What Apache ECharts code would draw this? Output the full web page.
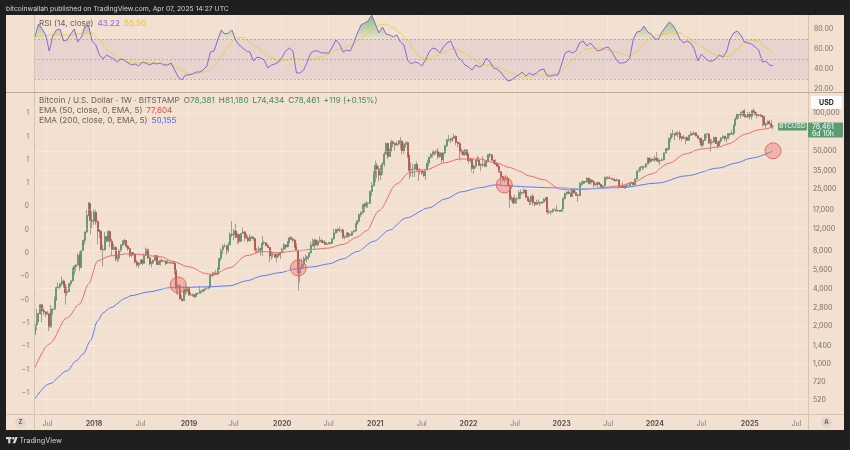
<!DOCTYPE html>
<html><head><meta charset="utf-8">
<script src="https://cdn.jsdelivr.net/npm/echarts@6/dist/echarts.min.js"></script>
<style>html,body{margin:0;padding:0;background:#1f1f1f;}#c{width:850px;height:450px;}</style>
</head><body><div id="c"></div>
<script>
// ---------- DATA ----------
const startYear = 2017, startMonth = 4, startDay = 15; // first weekly bar: 2017-05-15
const slotCount = 432; // weekly slots on the time axis (incl. empty future space)

// weekly candles [open, high, low, close]
const w2017 = [
[1720,2100,1700,2050],[2050,2760,1850,2200],[2200,2550,2150,2520],[2520,2990,2460,2960],[2960,3000,2150,2650],
[2650,2780,2450,2590],[2590,2620,2350,2500],[2500,2650,2470,2510],[2510,2560,1830,1970],[1970,2950,1950,2750],
[2750,2800,2450,2730],[2730,3450,2700,3220],[3220,4150,3200,4060],[4060,4480,3950,4100],[4100,4400,3950,4360],
[4360,4980,4200,4580],[4580,4720,4050,4230],[4230,4380,2970,3700],[3700,4120,3500,3780],[3780,4400,3750,4370],
[4370,4650,4170,4600],[4600,5860,4550,5700],[5700,6170,5100,6000],[6000,6200,5450,6150],[6150,7600,6100,7360],
[7360,7880,5500,5900],[5900,8100,5850,8000],[8000,9750,7950,9700],[9700,11400,9000,11300],[11300,17100,11000,15300],
[15300,19700,15100,19100],[19100,19200,10800,14000],[14000,16500,12000,13800]];
const w2018 = [
[13800,17250,12800,16200],[16200,17100,12900,13600],[13600,14000,9000,11600],[11600,11900,10100,11400],[11400,11700,7900,8200],
[8200,8900,6000,8100],[8100,11300,8000,10400],[10400,10500,9300,9600],[9600,11700,9400,11400],
[11400,11500,8500,9500],[9500,9950,7300,8200],[8200,9100,8100,8500],[8500,8700,6600,6900],
[6900,7500,6450,7000],[7000,8250,6600,8000],[8000,9000,7850,8900],[8900,9750,8700,9400],[9400,9950,9000,9650],
[9650,9700,8400,8700],[8700,8900,7950,8300],[8300,8400,7050,7350],[7350,7750,7100,7700],
[7700,7800,7400,7500],[7500,7520,6300,6500],[6500,6800,5900,6150],[6150,6550,5800,6350],
[6350,6800,6250,6750],[6750,6800,6100,6350],[6350,7600,6300,7400],[7400,8500,7350,8200],[8200,8250,6900,7000],
[7000,7150,6100,6300],[6300,6600,5900,6400],[6400,6800,6250,6700],[6700,7400,6650,7300],
[7300,7400,6200,6200],[6200,6600,6150,6500],[6500,6800,6100,6700],[6700,6900,6550,6600],
[6600,6650,6500,6600],[6600,6700,6100,6350],[6350,6750,6350,6450],[6450,6550,6400,6400],[6400,6500,6250,6400],
[6400,6550,6300,6350],[6350,6500,5200,5600],[5600,5650,3600,4000],[4000,4400,3550,4200],
[4200,4300,3300,3300],[3300,3550,3150,3200],[3200,4200,3200,3900],[3900,4250,3550,3800],[3800,4100,3650,4050]];
const w2019 = [
[4050,4100,3500,3550],[3550,3750,3500,3550],[3550,3650,3450,3550],[3550,3600,3350,3450],
[3450,3700,3380,3650],[3650,3720,3550,3650],[3650,4200,3650,3800],[3800,3900,3700,3850],
[3850,3950,3700,3900],[3900,4050,3800,4000],[4000,4100,3950,3990],[3990,4150,3950,4100],
[4100,5300,4100,5050],[5050,5450,4950,5150],[5150,5400,5050,5300],[5300,5650,5150,5200],[5200,5900,5150,5700],
[5700,7000,5650,6950],[6950,8350,6600,8100],[8100,8950,7500,8700],[8700,9100,8500,8700],
[8700,8800,7450,8000],[8000,9400,7700,8900],[8900,11200,8900,10800],[10800,13800,10300,10700],
[10700,12000,9700,11500],[11500,13150,10100,10200],[10200,11100,9000,10750],[10750,10950,9150,9500],[9500,11000,9400,11000],
[11000,12300,11000,11300],[11300,11450,9500,10300],[10300,10950,9900,10100],[10100,10650,9350,9600],
[9600,10850,9600,10300],[10300,10450,9900,10300],[10300,10300,9600,10000],[10000,10050,7700,8050],[8050,8450,7700,7950],
[7950,8800,7800,8300],[8300,8400,7300,7950],[7950,10500,7300,9200],[9200,9600,8900,9250],
[9250,9400,8700,8800],[8800,9100,8400,8500],[8500,8500,6500,7300],[7300,7900,6800,7500],
[7500,7700,7050,7500],[7500,7600,7050,7100],[7100,7550,6450,7500],[7500,7700,7100,7400],[7400,7850,6850,7750]];
const w2020 = [
[7750,8450,7700,8200],[8200,9200,8100,8900],[8900,8950,8250,8600],[8600,9550,8500,9400],
[9400,10200,9150,10150],[10150,10500,9700,9900],[9900,10250,9300,9700],[9700,9950,8400,8550],
[8550,9200,8000,8000],[8000,8200,3850,5350],[5350,6900,4450,5850],[5850,6950,5700,6250],[6250,7200,5850,6800],
[6800,7450,6700,6900],[6900,7300,6500,7150],[7150,7750,6800,7700],[7700,9450,7650,8900],
[8900,10050,8700,8750],[8750,9950,8200,9700],[9700,9850,8800,8900],[8900,9750,8650,9450],
[9450,10400,9300,9650],[9650,10000,9200,9350],[9350,9600,9200,9300],[9300,9750,8950,9000],[9000,9400,8900,9050],
[9050,9450,9050,9250],[9250,9300,9000,9200],[9200,10000,9150,9950],[9950,12000,9900,11100],
[11100,12000,10950,11850],[11850,12100,11100,11850],[11850,12450,11300,11650],[11650,11750,11150,11700],[11700,12100,9900,10250],
[10250,10600,9850,10350],[10350,11150,10200,11100],[11100,11150,10150,10750],[10750,10950,10400,10650],
[10650,11450,10550,11300],[11300,11750,11250,11500],[11500,13350,11450,13100],[13100,14100,12950,13800],
[13800,15950,13300,15500],[15500,16500,14850,16050],[16050,18800,15800,18700],[18700,19400,16300,18200],[18200,19900,17600,19150],
[19150,19400,17600,19150],[19150,24200,19000,23800],[23800,28400,21900,26450],[26450,34800,26200,32200]];
const w2021 = [
[32200,41900,28200,38200],[38200,40100,30400,36000],[36000,37800,28850,32100],[32100,38500,29300,34300],
[34300,40900,32300,39200],[39200,49700,37400,47200],[47200,58300,46800,57500],[57500,57500,43000,45200],
[45200,52600,44900,51000],[51000,61700,49300,59000],[59000,60600,53300,57300],[57300,58400,50400,55800],[55800,60000,55500,57100],
[57100,61200,55400,59800],[59800,64900,51500,60000],[60000,60100,47000,50100],[50100,58400,47500,56600],
[56600,59500,52900,58200],[58200,59600,43800,46400],[46400,46600,30000,34700],[34700,40800,31200,35700],[35700,39400,31100,35800],
[35800,39500,31000,39100],[39100,41300,34800,35500],[35500,36000,28800,34700],[34700,36600,32700,35300],
[35300,35100,32100,33500],[33500,34600,31100,31800],[31800,35400,29300,35400],[35400,42600,35300,39900],
[39900,44800,37500,44600],[44600,48100,43800,47000],[47000,50500,44300,49300],[49300,50000,46300,48900],[48900,51000,46600,49900],
[49900,52900,42900,45200],[45200,48800,44000,48300],[48300,48300,39600,42700],[42700,48500,40800,48200],
[48200,56100,47100,55000],[55000,62000,53900,61500],[61500,67000,59500,61300],[61300,63700,57800,61300],
[61300,64200,59500,63300],[63300,69000,62300,65500],[65500,66300,55600,58700],[58700,59300,53600,57200],[57200,59100,42000,49400],
[49400,51900,47000,50100],[50100,50100,45600,46700],[46700,51900,45600,50800],[50800,52100,45700,47300]];
const w2022 = [
[47300,47500,39600,41900],[41900,44400,40600,43100],[43100,43500,34000,36300],[36300,38900,32900,37900],[37900,42600,36300,42400],
[42400,45800,41700,42200],[42200,44700,38000,38400],[38400,39800,34300,39100],[39100,45400,37200,38800],
[38800,42600,37200,37800],[37800,42400,37600,41300],[41300,46900,40500,46800],[46800,48200,44200,46400],
[46400,47200,42100,42200],[42200,42400,39200,39700],[39700,42900,38600,39500],[39500,40800,37600,37700],
[37700,40000,33700,34100],[34100,34200,26700,31300],[31300,31300,28600,29500],[29500,30600,28000,29500],[29500,32400,29300,29900],
[29900,31700,26600,26600],[26600,26900,17600,20600],[20600,21900,19700,21000],[21000,21500,18800,19300],
[19300,22500,19000,20800],[20800,21500,18900,20800],[20800,24300,20800,22600],[22600,24700,20700,23300],
[23300,23600,22500,23200],[23200,25200,22700,24400],[24400,24500,20800,21500],[21500,21800,19900,20000],[20000,20600,18500,19800],
[19800,21900,18600,21800],[21800,22700,18300,19400],[19400,19700,18100,18800],[18800,20400,18500,19300],
[19300,20500,19000,19400],[19400,19700,18200,19200],[19200,19700,18900,19600],[19600,21000,19300,20600],[20600,21500,20000,21200],
[21200,21500,15600,16300],[16300,17200,15800,16300],[16300,16800,15500,16500],[16500,17400,16000,17100],
[17100,17400,16700,17100],[17100,18400,16300,16700],[16700,17000,16400,16800],[16800,16900,16300,16550]];
const w2023 = [
[16550,17200,16500,17100],[17100,21300,17100,20900],[20900,23300,20500,22800],[22800,23800,22300,23500],[23500,24200,22600,23000],
[23000,23200,21400,21800],[21800,25200,21400,24600],[24600,25100,22800,23200],[23200,23900,21900,22200],
[22200,22600,19600,22100],[22100,28400,21900,26900],[26900,28800,26700,27500],[27500,29200,26600,28500],
[28500,28700,27300,28300],[28300,31000,28200,30300],[30300,30500,27200,27600],[27600,30000,26900,29300],
[29300,29800,27700,28400],[28400,29000,25800,26800],[26800,27500,26500,27100],[27100,28400,25900,28000],[28000,28400,26500,27100],
[27100,27400,25400,25900],[25900,26800,24800,26300],[26300,31400,26200,30500],[30500,31300,29500,30600],
[30600,31400,29700,30300],[30300,31800,29900,30200],[30200,30400,29500,29800],[29800,30000,28900,29300],[29300,29700,28600,29000],
[29000,30200,28800,29400],[29400,29500,25200,26100],[26100,26800,25800,26000],[26000,28100,25400,25900],
[25900,26400,24900,25800],[25800,27000,24900,26500],[26500,27500,26000,26500],[26500,28100,26000,27900],
[27900,28600,27200,27900],[27900,28000,26500,26900],[26900,30400,26900,29900],[29900,35300,29700,34500],[34500,35900,34000,35000],
[35000,37900,34500,37000],[37000,37900,34800,37400],[37400,38400,35700,37400],[37400,40000,36800,39400],
[39400,44700,39300,43800],[43800,44000,40200,41300],[41300,44300,40500,43000],[43000,43600,41500,42300]];
const w2024 = [
[42300,45900,40700,43900],[43900,49000,41500,41700],[41700,43500,40300,41600],[41600,42800,38500,42000],[42000,43900,41800,42600],
[42600,48500,42300,48300],[48300,52800,48200,52100],[52100,52900,50600,51700],[51700,64000,50900,63100],
[63100,69200,59000,68300],[68300,73800,64500,68400],[68400,68900,60800,67200],[67200,71600,66700,69700],
[69700,71300,64500,69300],[69300,72800,60700,63400],[63400,65500,59700,64800],[64800,67200,62800,63100],[63100,64700,56500,63900],
[63900,65500,60200,61000],[61000,67400,60700,66900],[66900,71900,66300,68500],[68500,70000,66600,67700],
[67700,71900,67600,69600],[69600,70100,65200,66200],[66200,67000,63000,63200],[63200,63300,58400,62700],
[62700,63800,53500,55800],[55800,61300,54300,60800],[60800,68400,60700,68200],[68200,68500,63500,68200],[68200,70000,57200,58100],
[58100,62700,49100,58700],[58700,61800,56200,58900],[58900,65000,57800,64200],[64200,64500,57200,57300],
[57300,59800,52600,54800],[54800,60600,54600,60000],[60000,64100,57500,63600],[63600,66500,62700,65600],[65600,65600,59800,62800],
[62800,64400,58900,62800],[62800,69400,62300,69000],[69000,69500,65100,68000],[68000,73600,67500,69300],
[69300,80700,66800,80400],[80400,93500,80200,90000],[90000,99600,89400,98000],[98000,98800,90800,97200],
[97200,104000,90500,101200],[101200,105200,94200,104300],[104300,108300,92200,95200],[95200,99900,92600,93700],[93700,102700,91500,98300]];
const w2025 = [
[98300,102700,89300,94500],[94500,106400,89300,104500],[104500,109400,99500,102400],[102400,106500,96000,97700],
[97700,102500,91200,96500],[96500,98800,94100,96100],[96100,99500,93300,96300],[96300,96500,78200,94200],
[94200,95000,80000,80700],[80700,84300,76600,82600],[82600,87500,81200,86100],[86100,88800,81600,82500],[82500,88500,77200,78342],
[78381,81180,74434,78461]];

// RSI(14) read every 2 weeks from week 0, and its MA read every 4 weeks
const rsiStep2 = [72,85,80,74,58,73,79,80,68,69,
75,80,67,72,83,83,68,64,54,50, 54,52,50,47,50,49,46,44,45,43,
47,46,44,46,45,46,44,44,46,39, 32,29,34,34,35,37,37,39,43,57,
58,69,79,75,76,79,69,64,61,58, 57,48,52,51,49,41,44,45,47,52,
58,61,58,36,36,39,47,56,58,58, 56,56,56,62,69,65,57,59,58,66,
76,84,86,88,94,85,76,82,75,74, 72,74,67,64,49,45,47,46,43,49,
57,61,60,56,62,66,68,60,52,49, 44,42,39,44,42,44,51,47,41,40,
37,32,28,29,32,34,37,33,36,34, 36,39,40,33,33,34,34,45,56,58,
56,58,66,68,63,66,62,58,59,61, 62,57,51,46,46,47,51,70,77,78,
83,77,75,70,70,77,82,87,84,78, 70,66,68,66,60,48,55,51,48,48,
50,54,52,57,70,76,78,74,67,66, 65,62,59,47,48,44,43.22];
const rsiMaStep4 = [72,73,74,74,74,74,75,76,76,69,
60,55,50,47,46,46,46,46,45,44, 41,37,35,36,38,43,52,63,71,72,
67,62,56,51,48,49,50,50,49,50, 52,55,59,61,63,68,73,79,84,85,
81,76,68,58,51,50,53,56,60,59, 56,51,46,44,44,41,37,35,32,33,
34,34,35,36,42,49,56,60,61,61, 59,57,55,53,57,65,71,74,75,77,
76,72,67,62,58,54,52,53,60,67, 69,68,61,55.5];

// EMA lines at these weeks
const ema50Weeks = [0,8,18,25,30,35,42,51,58,64,71,76,86,96,99,109,118,127,136,146,155,164,172,180,185,192,202,209,218,229,237,248,257,266,270,276,284,293,298,307,316,326,333,344,354,363,372,382,387,397,404,412];
const ema50Vals = [930,1440,2330,3010,4350,6640,7270,7550,7500,7300,7130,6640,5950,5230,5130,5860,7300,7880,7730,8000,8200,8400,9000,10300,11520,16660,27300,33600,35300,40300,43200,43200,40300,36600,34700,31600,29500,24900,24400,24900,25400,26300,27800,32700,40000,47400,52000,53900,57000,68500,73900,77604];
const ema200Weeks = [0,8,18,23,27,31,35,38,42,51,53,64,75,97,109,118,127,136,146,155,164,172,180,189,198,207,220,229,238,248,257,266,276,289,307,326,348,363,382,391,400,412];
const ema200Vals = [526,693,880,1056,1200,1530,2200,2550,2800,3360,3490,3760,4050,4120,4200,4600,5040,5330,5740,5950,6280,6900,7900,9500,11700,14600,17600,20700,23600,25400,26800,26300,25800,25400,24900,25400,27800,31600,36600,40000,43900,50155];

// highlighted EMA touches
const circleWeeks = [80,147,262,412];
const circlePrices = [4264,5826,26790,50155];

// axis tick labels
const priceTicks = [520,720,1000,1400,2000,2800,4000,5600,8000,12000,17000,25000,35000,50000,100000];
const rsiTicks = [20,40,60,80];
const leftTickLabels = ["−1","−1","−1","−1","−0","−0","0","0","0","1","1","1","1"]; // bottom to top
const leftTickValues = [0.9,1.9,2.9,3.9,4.9,5.9,6.9,7.9,8.9,9.9,10.9,11.9,12.9];
const lastPrice = 78461;

// ---------- BUILD ----------
const cats = [];
const t0 = Date.UTC(startYear, startMonth, startDay);
for (let i = 0; i < slotCount; i++) cats.push(new Date(t0 + i * 7 * 86400000).toISOString().slice(0, 10));

const weeks = [].concat(w2017, w2018, w2019, w2020, w2021, w2022, w2023, w2024, w2025);
const wickData = weeks.map(r => [r[0], r[3], r[2], r[1]]);
const bodyData = weeks.map(r => [r[0], r[3], Math.min(r[0], r[3]), Math.max(r[0], r[3])]);
const ema50 = ema50Weeks.map((w, i) => [w, ema50Vals[i]]);
const ema200 = ema200Weeks.map((w, i) => [w, ema200Vals[i]]);
const rsi = rsiStep2.map((v, i) => [i * 2, v]);
const rsiMa = rsiMaStep4.map((v, i) => [i * 4, v]);
const obBase = rsiStep2.map((v, i) => [i * 2, 70]);
const obTop = rsiStep2.map((v, i) => [i * 2, Math.max(v, 70) - 70]);
const osBase = rsiStep2.map((v, i) => [i * 2, Math.min(v, 30)]);
const osTop = rsiStep2.map((v, i) => [i * 2, 30 - Math.min(v, 30)]);

const FONT = 'Inter, "Noto Sans", sans-serif';
const LF = 8.2; // legend font size
const isLabelWeek = (idx, val) => { const m = val.slice(5, 7), d = +val.slice(8, 10); return (m === '01' || m === '07') && d <= 7; };
const gridLine = { show: true, interval: isLabelWeek, lineStyle: { color: 'rgba(255,255,255,0.25)', width: 1 } };

const chart = echarts.init(document.getElementById('c'));
chart.setOption({
  animation: false,
  backgroundColor: '#1f1f1f',
  textStyle: { fontFamily: FONT },
  grid: [
    { left: 34, top: 93, width: 774, height: 321 },
    { left: 34, top: 15, width: 774, height: 77 }
  ],
  xAxis: [
    { type: 'category', gridIndex: 0, data: cats, boundaryGap: true,
      axisLine: { show: false }, axisTick: { show: false }, splitLine: gridLine,
      axisLabel: { interval: isLabelWeek, color: '#857b72', fontSize: 7, margin: 6, fontFamily: FONT,
        formatter: v => v.slice(5, 7) === '01' ? '{y|' + v.slice(0, 4) + '}' : 'Jul',
        rich: { y: { fontWeight: 'bold', color: '#5c544d', fontSize: 7, fontFamily: FONT } } } },
    { type: 'category', gridIndex: 1, data: cats, boundaryGap: true,
      axisLine: { show: false }, axisTick: { show: false }, axisLabel: { show: false }, splitLine: gridLine }
  ],
  yAxis: [
    { type: 'log', gridIndex: 0, position: 'right', logBase: 10, min: 398, max: 145200,
      axisLine: { show: false }, axisTick: { show: false }, axisLabel: { show: false }, splitLine: { show: false } },
    { type: 'value', gridIndex: 0, position: 'left', min: 0, max: 13.76,
      axisLine: { show: false }, axisTick: { show: false }, splitLine: { show: false },
      axisLabel: { customValues: leftTickValues, color: '#857b72', fontSize: 7, margin: 5, fontFamily: FONT,
        formatter: v => leftTickLabels[Math.round(v - 0.9)] } },
    { type: 'value', gridIndex: 1, position: 'right', min: 17, max: 94,
      axisLine: { show: false }, axisTick: { show: false }, splitLine: { show: false },
      axisLabel: { customValues: rsiTicks, color: '#7a7069', fontSize: 7, margin: 6, fontFamily: FONT,
        formatter: v => v.toFixed(2) } }
  ],
  series: [
    { type: 'candlestick', name: 'wick', xAxisIndex: 0, yAxisIndex: 0, data: wickData, barWidth: 1.5, silent: true,
      itemStyle: { color: 'rgba(0,0,0,0)', color0: 'rgba(0,0,0,0)', borderColor: '#a39a92', borderColor0: '#a39a92', borderWidth: 1 },
      markLine: { silent: true, symbol: ['none', 'none'], animation: false,
        lineStyle: { color: 'rgba(255,255,255,0.26)', width: 1, type: 'solid' },
        label: { show: true, position: 'end', distance: 5, color: '#756c64', fontSize: 7, fontFamily: FONT,
          formatter: p => Number(p.value).toLocaleString('en-US') },
        data: priceTicks.map(p => ({ yAxis: p })) } },
    { type: 'candlestick', name: 'body', xAxisIndex: 0, yAxisIndex: 0, data: bodyData, barWidth: 1.5, silent: true,
      itemStyle: { color: '#4f9d6e', color0: '#c4463e', borderColor: '#4f9d6e', borderColor0: '#c4463e', borderWidth: 0.5 },
      markPoint: { silent: true, symbol: 'circle', symbolSize: 16, label: { show: false },
        itemStyle: { color: 'rgba(240,104,104,0.38)', borderColor: 'rgba(230,88,88,0.8)', borderWidth: 1 },
        data: circleWeeks.map((w, i) => ({ coord: [cats[w], circlePrices[i]] })) } },
    { type: 'line', name: 'EMA50', xAxisIndex: 0, yAxisIndex: 0, data: ema50, showSymbol: false, symbol: 'none',
      smooth: 0.3, smoothMonotone: 'x', lineStyle: { color: '#ee6a6a', width: 1 }, z: 3, silent: true },
    { type: 'line', name: 'EMA200', xAxisIndex: 0, yAxisIndex: 0, data: ema200, showSymbol: false, symbol: 'none',
      smooth: 0.3, smoothMonotone: 'x', lineStyle: { color: '#5a7fec', width: 1 }, z: 3, silent: true },
    { type: 'line', xAxisIndex: 1, yAxisIndex: 2, data: obBase, stack: 'ob', symbol: 'none', lineStyle: { width: 0, opacity: 0 }, silent: true, z: 1 },
    { type: 'line', xAxisIndex: 1, yAxisIndex: 2, data: obTop, stack: 'ob', symbol: 'none', lineStyle: { width: 0, opacity: 0 }, silent: true, z: 1,
      areaStyle: { color: { type: 'linear', x: 0, y: 0, x2: 0, y2: 1, colorStops: [{ offset: 0, color: 'rgba(56,168,76,0.85)' }, { offset: 1, color: 'rgba(56,168,76,0.05)' }] } } },
    { type: 'line', xAxisIndex: 1, yAxisIndex: 2, data: osBase, stack: 'os', symbol: 'none', lineStyle: { width: 0, opacity: 0 }, silent: true, z: 1 },
    { type: 'line', xAxisIndex: 1, yAxisIndex: 2, data: osTop, stack: 'os', symbol: 'none', lineStyle: { width: 0, opacity: 0 }, silent: true, z: 1,
      areaStyle: { color: { type: 'linear', x: 0, y: 0, x2: 0, y2: 1, colorStops: [{ offset: 0, color: 'rgba(230,70,70,0.05)' }, { offset: 1, color: 'rgba(230,70,70,0.7)' }] } } },
    { type: 'line', name: 'RSI', xAxisIndex: 1, yAxisIndex: 2, data: rsi, symbol: 'none', silent: true, z: 3,
      lineStyle: { color: '#8a68cf', width: 1 },
      markArea: { silent: true, itemStyle: { color: 'rgba(126,87,194,0.09)' }, data: [[{ yAxis: 30 }, { yAxis: 70 }]] },
      markLine: { silent: true, symbol: ['none', 'none'], label: { show: false },
        lineStyle: { color: 'rgba(130,110,130,0.42)', width: 1, type: [2, 2] }, data: [{ yAxis: 70 }, { yAxis: 50 }, { yAxis: 30 }] } },
    { type: 'line', name: 'RSI MA', xAxisIndex: 1, yAxisIndex: 2, data: rsiMa, symbol: 'none', silent: true, z: 2,
      smooth: 0.4, smoothMonotone: 'x', lineStyle: { color: '#eecd4f', width: 1 } }
  ]
});

// ---------- DECORATION (panel frame, legends, tags) ----------
const py = chart.convertToPixel({ yAxisIndex: 0 }, lastPrice);
const SEP = '#d5c4b3';
const txt = (x, y, text, extra) => ({ type: 'text', silent: true, z: 50,
  style: Object.assign({ x, y, text, fill: '#6a6159', fontSize: 7, fontFamily: FONT, verticalAlign: 'middle', align: 'left' }, extra || {}) });
const rs = (c) => ({ fill: c, fontSize: LF, fontFamily: FONT });
chart.setOption({
  graphic: [
    { type: 'rect', silent: true, z: -100, shape: { x: 6, y: 15, width: 838, height: 415 }, style: { fill: '#f2e1d0' } },
    { type: 'line', silent: true, z: 40, shape: { x1: 34.5, y1: 15, x2: 34.5, y2: 430 }, style: { stroke: SEP, lineWidth: 1 } },
    { type: 'line', silent: true, z: 40, shape: { x1: 808.5, y1: 15, x2: 808.5, y2: 430 }, style: { stroke: SEP, lineWidth: 1 } },
    { type: 'line', silent: true, z: 40, shape: { x1: 6, y1: 92.5, x2: 844, y2: 92.5 }, style: { stroke: '#b9a998', lineWidth: 1.2 } },
    { type: 'line', silent: true, z: 40, shape: { x1: 6, y1: 414.5, x2: 844, y2: 414.5 }, style: { stroke: SEP, lineWidth: 1 } },
    txt(6, 8.5, 'bitcoinwallah published on TradingView.com, Apr 07, 2025 14:27 UTC', { fill: '#d6d6d6', fontSize: 6.8 }),
    txt(39, 24, '{g|RSI (14, close)}  {p|43.22}  {y|55.50}', { rich: { g: rs('#6a6159'), p: rs('#8a68cf'), y: rs('#e5c23c') } }),
    txt(39, 101, '{g|Bitcoin / U.S. Dollar · 1W · BITSTAMP}  {g|O}{v|78,381}  {g|H}{v|81,180}  {g|L}{v|74,434}  {g|C}{v|78,461}  {v|+119 (+0.15%)}',
      { rich: { g: rs('#6a6159'), v: rs('#3f8c5e') } }),
    txt(39, 111, '{g|EMA (50, close, 0, EMA, 5)}  {r|77,604}', { rich: { g: rs('#6a6159'), r: rs('#ec4b4b') } }),
    txt(39, 121, '{g|EMA (200, close, 0, EMA, 5)}  {b|50,155}', { rich: { g: rs('#6a6159'), b: rs('#4b6cf0') } }),
    { type: 'rect', silent: true, z: 45, shape: { x: 811, y: 96, width: 31, height: 13, r: 2 }, style: { fill: '#ffffff' } },
    txt(826.5, 102.5, 'USD', { fill: '#222', fontWeight: 'bold', align: 'center' }),
    { type: 'rect', silent: true, z: 45, shape: { x: 778, y: py - 3.8, width: 29, height: 7.8, r: 1 }, style: { fill: '#5a9c74' } },
    txt(792.5, py, 'BTCUSD', { fill: '#ffffff', fontSize: 6.5, align: 'center' }),
    { type: 'rect', silent: true, z: 45, shape: { x: 808, y: py - 4, width: 35, height: 15, r: 1 }, style: { fill: '#5a9c74' } },
    txt(812, py, '78,461', { fill: '#ffffff', fontSize: 7 }),
    txt(812, py + 7, '6d 10h', { fill: '#ffffff', fontSize: 7 }),
    { type: 'circle', silent: true, z: 45, shape: { cx: 20.5, cy: 422.5, r: 5.5 }, style: { fill: '#e6d5c4' } },
    txt(20.5, 422.5, 'Z', { fill: '#6a6159', fontSize: 6, fontWeight: 'bold', align: 'center' }),
    { type: 'circle', silent: true, z: 45, shape: { cx: 826.5, cy: 422.5, r: 5.5 }, style: { fill: '#e6d5c4' } },
    txt(826.5, 422.5, 'A', { fill: '#6a6159', fontSize: 6, fontWeight: 'bold', align: 'center' }),
    { type: 'rect', silent: true, z: 45, shape: { x: 6, y: 437, width: 5.5, height: 2.2 }, style: { fill: '#d6d6d6' } },
    { type: 'rect', silent: true, z: 45, shape: { x: 8.2, y: 437, width: 2.2, height: 6.3 }, style: { fill: '#d6d6d6' } },
    { type: 'circle', silent: true, z: 45, shape: { cx: 13.2, cy: 438.2, r: 1.2 }, style: { fill: '#d6d6d6' } },
    { type: 'polygon', silent: true, z: 45, shape: { points: [[15.2, 437], [17.8, 437], [15.3, 443.3], [12.7, 443.3]] }, style: { fill: '#d6d6d6' } },
    txt(19.5, 440.5, 'TradingView', { fill: '#d6d6d6', fontSize: 7.2 })
  ]
});
</script>
</body></html>
